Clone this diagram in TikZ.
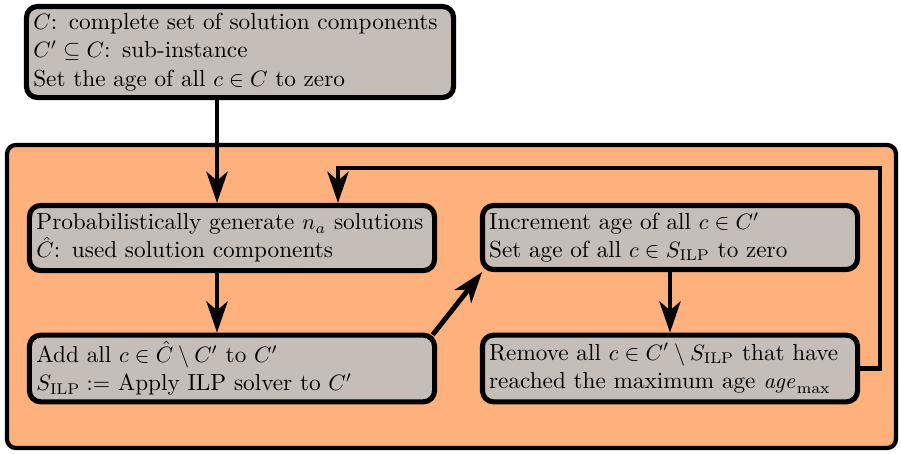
\documentclass[tikz,border=0pt]{standalone}
\usetikzlibrary{arrows.meta}
\definecolor{boxgray}{RGB}{197,189,184}
\definecolor{bgorange}{RGB}{255,177,125}
\begin{document}
\begin{tikzpicture}[x=0.45pt,y=-0.45pt,
  box/.style={draw=black, line width=2.3pt, fill=boxgray, rounded corners=5pt,
    align=left, inner xsep=3pt, inner ysep=0pt, font=\fontsize{10.45}{12.7}\selectfont},
  flow/.style={line width=2.2pt, -{Stealth[length=14pt, width=9.5pt, inset=4pt]}}]
\useasboundingbox (0,0) rectangle (901,453);
\node[draw=black, line width=1.9pt, fill=bgorange, rounded corners=4pt,
  minimum width=889*0.45pt, minimum height=303*0.45pt, inner sep=0pt] (bg) at (451.5,296.5) {};
\node[box, minimum width=192.2pt, minimum height=41pt, text width=186pt] (init) at (240,52)
  {$C$: complete set of solution components\\
   $C'\subseteq C$: sub-instance\\
   Set the age of all $c\in C$ to zero};
\node[box, minimum width=182.3pt, minimum height=29.3pt, text width=176pt] (gen) at (232,238)
  {Probabilistically generate $n_a$ solutions\\
   $\hat{C}$: used solution components};
\node[box, minimum width=182.3pt, minimum height=30pt, text width=176pt] (add) at (232,368.5)
  {Add all $c\in\hat{C}\setminus C'$ to $C'$\\
   $S_{\mathrm{ILP}} :=$ Apply ILP solver to $C'$};
\node[box, minimum width=168.8pt, minimum height=28.8pt, text width=162.8pt] (inc) at (670,237.5)
  {Increment age of all $c\in C'$\\
   Set age of all $c\in S_{\mathrm{ILP}}$ to zero};
\node[box, minimum width=168.8pt, minimum height=30pt, text width=162.8pt] (rem) at (670,368.5)
  {Remove all $c\in C'\setminus S_{\mathrm{ILP}}$ that have\\
   reached the maximum age $\mathit{age}_{\max}$};
\coordinate (c1) at (217,0);
\coordinate (c2) at (670,0);
\coordinate (lr) at (880,0);
\coordinate (lt) at (338,168);
\draw[flow] (init.south -| c1) -- (gen.north -| c1);
\draw[flow] (gen.south -| c1) -- (add.north -| c1);
\draw[flow] (inc.south -| c2) -- (rem.north -| c2);
\draw[flow] ([xshift=-2pt,yshift=-1pt]add.north east) -- ([xshift=1pt]inc.south west);
\draw[flow] (rem.east) -| (lr |- lt) -- (lt) -- (gen.north -| lt);
\end{tikzpicture}
\end{document}
